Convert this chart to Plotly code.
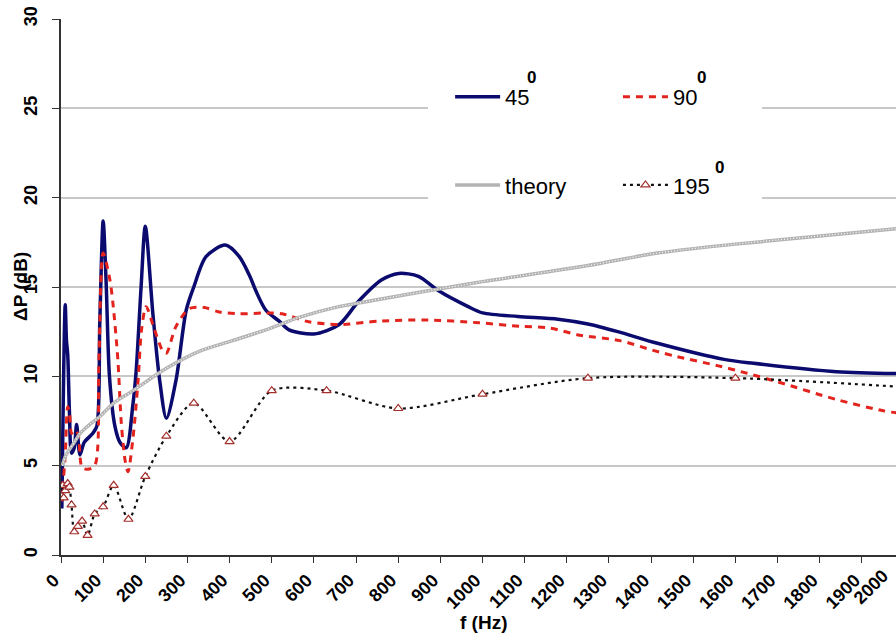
import plotly.graph_objects as go

# ---------------- data ----------------
f45 = [2, 10, 13, 16, 20, 25, 31.5, 37, 45, 55, 75, 85, 92, 100, 107, 115, 128, 140, 155, 170,
       178, 190, 200, 218, 234, 250, 273, 297, 315, 344, 390, 423, 448, 462, 486, 517, 541, 600,
       660, 706, 761, 801, 848, 895, 966, 1000, 1084, 1179, 1250, 1321, 1415, 1573, 1643, 1840, 2000]
v45 = [2.6, 14.0, 12.0, 11.2, 8.0, 5.7, 6.0, 7.3, 5.6, 6.3, 6.8, 7.2, 13.0, 18.7, 15.3, 10.0, 7.2, 6.3, 6.0, 8.3,
       10.2, 15.0, 18.4, 13.5, 9.8, 7.65, 9.8, 13.7, 15.0, 16.7, 17.35, 16.7, 15.6, 14.8, 13.7, 13.1, 12.6, 12.37,
       12.9, 14.2, 15.4, 15.76, 15.6, 14.8, 13.9, 13.55, 13.35, 13.2, 12.93, 12.5, 11.85, 10.95, 10.73, 10.26, 10.15]

f90 = [2, 5, 10, 16, 20, 25, 31.5, 40, 50, 63, 80, 90, 100, 116, 124, 135, 143, 152, 159, 171,
       183, 191, 202, 222, 242, 250, 273, 305, 340, 376, 423, 494, 525, 588, 659, 761, 872, 990,
       1089, 1160, 1231, 1326, 1405, 1462, 1557, 1628, 1699, 1840, 1951, 2000]
v90 = [3.0, 4.0, 5.6, 8.3, 8.0, 6.8, 7.0, 6.8, 4.9, 4.8, 5.0, 11.0, 16.9, 15.4, 13.9, 10.9, 7.4, 5.3, 4.66, 6.6,
       9.8, 12.6, 13.9, 12.6, 11.4, 11.3, 12.8, 13.8, 13.85, 13.6, 13.5, 13.55, 13.5, 13.05, 12.9, 13.1, 13.15, 13.0,
       12.8, 12.7, 12.3, 12.0, 11.45, 11.1, 10.6, 10.17, 9.7, 8.7, 8.07, 7.9]

f_theory = [3, 10, 20, 31.5, 45, 63, 92, 125, 171, 250, 328, 407, 486, 565, 659, 706, 800, 900,
            1000, 1250, 1415, 1600, 2000]
v_theory = [5.0, 5.5, 5.9, 6.3, 6.8, 7.2, 7.75, 8.5, 9.2, 10.45, 11.4, 12.0, 12.6, 13.3, 13.9, 14.1, 14.5, 14.9,
            15.3, 16.2, 16.9, 17.4, 18.3]

f195 = [2, 4, 6.3, 10, 16, 20, 25, 31.5, 40, 50, 63, 80, 100, 125, 160, 200, 250, 315, 400, 500,
        630, 800, 1000, 1250, 1600, 2000]
v195 = [3.3, 3.9, 3.2, 3.6, 4.0, 3.8, 2.8, 1.3, 1.6, 1.9, 1.1, 2.3, 2.7, 3.9, 2.0, 4.4, 6.65, 8.5, 6.35, 9.2,
        9.2, 8.2, 9.0, 9.9, 9.9, 9.4]

x_ticks = list(range(0, 2000, 100))
x_ticklabels = [str(v) for v in x_ticks]
y_ticks = [0, 5, 10, 15, 20, 25, 30]

FONT = "Arial, Liberation Sans, sans-serif"

fig = go.Figure()

fig.add_trace(go.Scatter(
    x=f45, y=v45, name="45", mode="lines", legend="legend",
    line=dict(color="#0b0b6f", width=3.5, shape="spline", smoothing=0.8)))

fig.add_trace(go.Scatter(
    x=f90, y=v90, name="90", mode="lines", legend="legend2",
    line=dict(color="#e3231d", width=3, dash="7px,6px", shape="spline", smoothing=0.8)))

fig.add_trace(go.Scatter(
    x=f_theory, y=v_theory, name="theory", mode="lines", legend="legend3",
    line=dict(color="#b3b3b3", width=3.5, shape="spline", smoothing=0.8)))
fig.add_trace(go.Scatter(
    x=f_theory, y=v_theory, mode="lines", showlegend=False, hoverinfo="skip",
    line=dict(color="#ffffff", width=1.2, dash="1px,2px", shape="spline", smoothing=0.8)))

fig.add_trace(go.Scatter(
    x=f195, y=v195, name="195", mode="lines+markers", legend="legend4",
    line=dict(color="#111111", width=2.2, dash="3px,4px", shape="spline", smoothing=0.8),
    marker=dict(symbol="triangle-up", size=8, color="white",
                line=dict(color="#a3302c", width=1.2))))

# white box behind the legend (hides gridlines)
fig.add_shape(type="rect", xref="paper", yref="paper",
              x0=0.4395, x1=0.8395, y0=0.655, y1=0.945,
              fillcolor="white", line=dict(width=0), layer="above")

leg_common = dict(orientation="v", bgcolor="rgba(0,0,0,0)", borderwidth=0,
                  font=dict(family=FONT, size=22, color="black"),
                  xanchor="left", yanchor="middle", itemwidth=45)
fig.update_layout(
    legend=dict(x=0.466, y=0.8545, **leg_common),
    legend2=dict(x=0.667, y=0.8545, **leg_common),
    legend3=dict(x=0.466, y=0.690, **leg_common),
    legend4=dict(x=0.667, y=0.690, **leg_common),
)

# superscript zeros of the legend labels
for xp, yp in [((531 - 61) / 835, (555 - 77) / 536),
               ((701 - 61) / 835, (555 - 77) / 536),
               ((719 - 61) / 835, (555 - 167) / 536)]:
    fig.add_annotation(x=xp, y=yp, xref="paper", yref="paper", text="<b>0</b>",
                       xanchor="center", yanchor="middle",
                       showarrow=False, font=dict(family=FONT, size=17, color="black"))

# axis titles
fig.add_annotation(x=(483 - 61) / 835, y=0, xref="paper", yref="paper", yshift=-67,
                   xanchor="center", yanchor="middle",
                   text="<b>f (Hz)</b>", showarrow=False,
                   font=dict(family=FONT, size=19, color="black"))
fig.add_annotation(x=(20 - 61) / 835, y=0.5, xref="paper", yref="paper", textangle=-90,
                   xanchor="center", yanchor="middle",
                   text="<b>ΔP (dB)</b>", showarrow=False,
                   font=dict(family=FONT, size=19, color="black"))
# last tick label (its tick lies just beyond the cropped right edge)
fig.add_annotation(x=(895 - 61) / 835, y=0, xref="paper", yref="paper", text="<b>2000</b>",
                   showarrow=False, textangle=-45, xanchor="right", yanchor="top",
                   yshift=-8,
                   font=dict(family=FONT, size=18, color="black"))

fig.update_xaxes(
    range=[0, 1981], tickvals=x_ticks, ticktext=[f"<b>{t}</b>" for t in x_ticklabels],
    tickangle=-45, ticks="outside", ticklen=6, tickcolor="#333", tickwidth=1.2,
    showline=True, linecolor="#333", linewidth=1.5, showgrid=False, zeroline=False,
    ticklabelstandoff=0, ticklabelshift=-7,
    tickfont=dict(family=FONT, size=18, color="black"))
fig.update_yaxes(
    range=[0, 30], tickvals=y_ticks, ticktext=[f"<b>{t}</b>" for t in y_ticks],
    tickangle=-90, ticks="outside", ticklen=7, tickcolor="#333", tickwidth=1.2,
    showline=True, linecolor="#333", linewidth=1.5,
    showgrid=True, gridcolor="#c8c8c8", gridwidth=1.5, zeroline=False,
    ticklabelstandoff=8,
    tickfont=dict(family=FONT, size=18, color="black"))

fig.update_layout(
    width=896, height=633,
    margin=dict(l=61, r=0, t=19, b=78),
    plot_bgcolor="white", paper_bgcolor="white",
    showlegend=True,
)

fig.write_html("out.html")
